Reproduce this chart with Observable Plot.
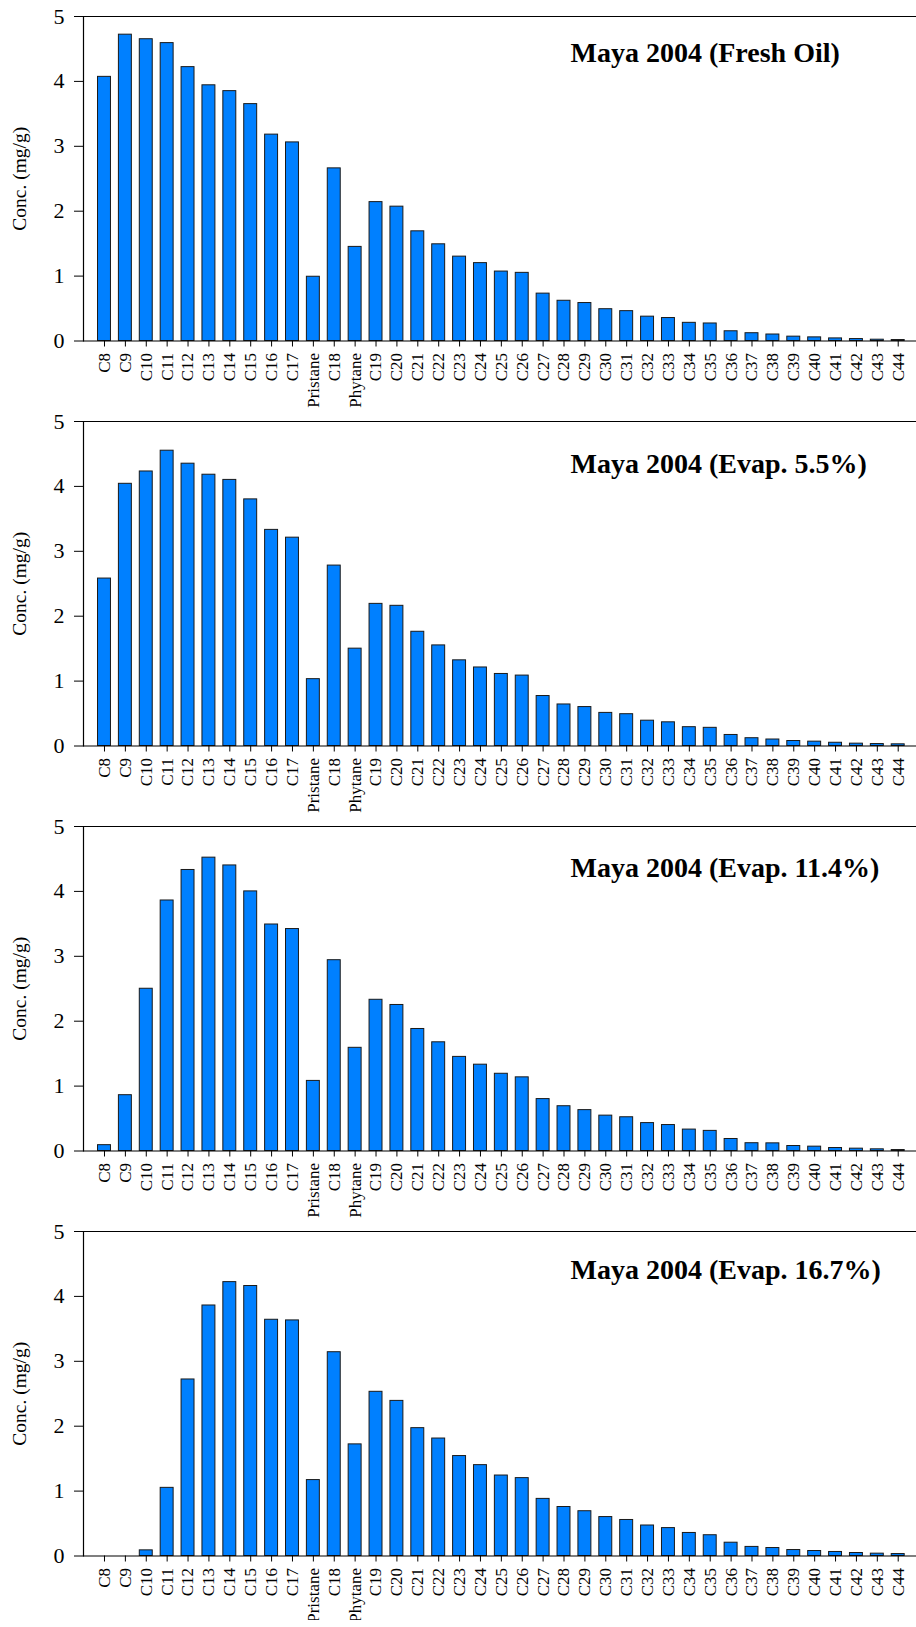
<!DOCTYPE html>
<html>
<head>
<meta charset="utf-8">
<script src="https://cdn.jsdelivr.net/npm/d3@7"></script>
<script src="https://cdn.jsdelivr.net/npm/@observablehq/plot@0.6"></script>
<style>
  html, body { margin: 0; padding: 0; background: #fff; }
  #charts svg { display: block; overflow: visible; }
</style>
</head>
<body>
<div id="charts"></div>
<script>
const categories = ["C8","C9","C10","C11","C12","C13","C14","C15","C16","C17","Pristane","C18","Phytane",
  "C19","C20","C21","C22","C23","C24","C25","C26","C27","C28","C29","C30","C31","C32","C33","C34","C35",
  "C36","C37","C38","C39","C40","C41","C42","C43","C44"];

const titles = ["Maya 2004 (Fresh Oil)", "Maya 2004 (Evap. 5.5%)", "Maya 2004 (Evap. 11.4%)", "Maya 2004 (Evap. 16.7%)"];

const freshOil = [4.07,4.72,4.65,4.59,4.22,3.94,3.85,3.65,3.18,3.06,0.99,2.66,1.45,
  2.14,2.07,1.69,1.49,1.30,1.20,1.07,1.05,0.73,0.62,0.585,0.49,0.46,0.375,0.354,0.28,0.27,
  0.15,0.12,0.10,0.067,0.056,0.04,0.03,0.02,0.015];

const evap55 = [2.58,4.04,4.23,4.55,4.35,4.18,4.10,3.80,3.33,3.21,1.03,2.78,1.50,
  2.19,2.16,1.76,1.55,1.32,1.21,1.11,1.085,0.77,0.64,0.60,0.51,0.49,0.39,0.365,0.29,0.28,
  0.17,0.12,0.10,0.077,0.067,0.05,0.036,0.03,0.026];

const evap114 = [0.09,0.86,2.50,3.86,4.33,4.52,4.40,4.00,3.49,3.42,1.08,2.94,1.59,
  2.33,2.25,1.88,1.675,1.45,1.33,1.19,1.135,0.80,0.69,0.63,0.545,0.52,0.43,0.40,0.33,0.31,
  0.185,0.12,0.118,0.077,0.067,0.046,0.036,0.026,0.015];

const evap167 = [0,0,0.087,1.05,2.72,3.86,4.22,4.16,3.64,3.63,1.17,3.14,1.72,
  2.53,2.39,1.97,1.81,1.54,1.40,1.24,1.20,0.88,0.755,0.69,0.60,0.555,0.47,0.43,0.355,0.32,
  0.205,0.14,0.123,0.092,0.077,0.062,0.046,0.036,0.03];

const yTicks = [0, 1, 2, 3, 4, 5];
const yLabel = "Conc. (mg/g)";

const series = [freshOil, evap55, evap114, evap167];
const titleDy = [37, 43, 42, 39];

const container = document.getElementById("charts");
const serif = "'Liberation Serif', 'Times New Roman', Times, serif";

series.forEach((values, i) => {
  const data = categories.map((c, j) => ({name: c, value: values[j]}));
  const chart = Plot.plot({
    width: 916,
    height: 405,
    marginTop: 16,
    marginBottom: 64.5,
    marginLeft: 83,
    marginRight: 0,
    style: {fontFamily: serif, fontSize: "22px", color: "#000", background: "transparent", overflow: "visible"},
    x: {type: "band", domain: categories, range: [83, 918.7], paddingInner: 0.38, paddingOuter: 0.695, label: null},
    y: {domain: [0, 5], label: null},
    marks: [
      Plot.barY(data, {x: "name", y: "value", fill: "#0080FF", stroke: "#1a1a1a", strokeWidth: 1}),
      Plot.ruleY([0, 5], {stroke: "#000", strokeWidth: 1.2}),
      Plot.frame({anchor: "left", stroke: "#000", strokeWidth: 1.2}),
      Plot.axisY({ticks: yTicks, tickSize: 9, tickPadding: 10, fontSize: 22, label: null, tickFormat: d => String(d)}),
      Plot.axisX({tickSize: 6, tickFormat: () => "", label: null}),
      Plot.text(categories, {x: d => d, frameAnchor: "bottom", rotate: -90, textAnchor: "end", lineAnchor: "middle", dy: 12, fontSize: 17, fill: "#000"}),
      Plot.text([yLabel], {frameAnchor: "left", rotate: -90, textAnchor: "middle", lineAnchor: "middle", dx: -63.5, fontSize: 19.5, fill: "#000"}),
      Plot.text([titles[i]], {frameAnchor: "top-left", textAnchor: "start", lineAnchor: "middle", dx: 487, dy: titleDy[i], fontSize: 28, fontWeight: "bold", fill: "#000"})
    ]
  });
  container.appendChild(chart);
});
</script>
</body>
</html>
